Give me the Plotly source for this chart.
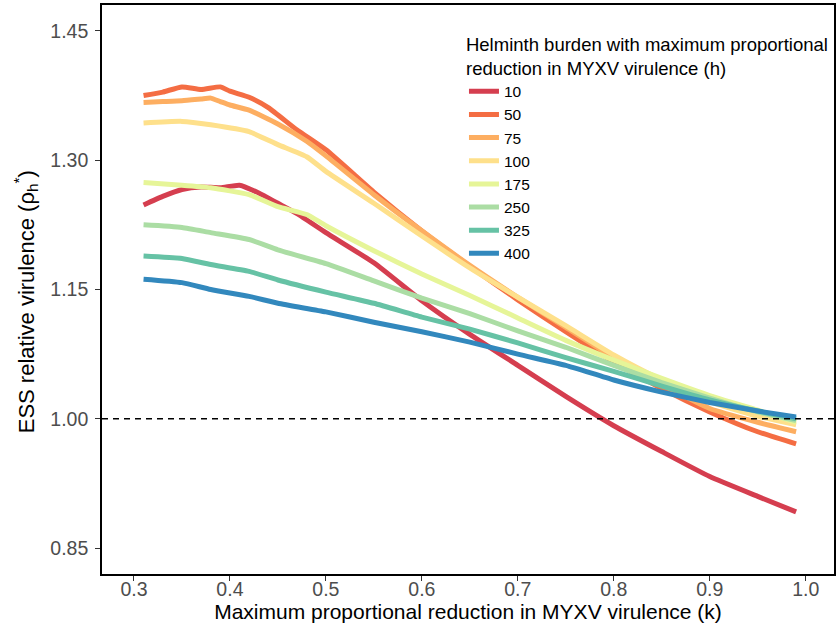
import plotly.graph_objects as go

# Helminth burden levels (legend) and colours
burden = ["10", "50", "75", "100", "175", "250", "325", "400"]
colors = ["#D53E4F", "#F46D43", "#FDAE61", "#FEE08B", "#E6F598", "#ABDDA4", "#66C2A5", "#3288BD"]

# k values and ESS relative virulence for each burden
k_10 = [0.31, 0.33, 0.35, 0.37, 0.39, 0.41, 0.43, 0.45, 0.47, 0.50, 0.55, 0.60, 0.65, 0.70, 0.75, 0.80, 0.85, 0.90, 0.95, 0.99]
v_10 = [1.248, 1.258, 1.266, 1.269, 1.268, 1.271, 1.262, 1.250, 1.238, 1.216, 1.181, 1.137, 1.098, 1.062, 1.026, 0.992, 0.962, 0.933, 0.910, 0.892]

k_50 = [0.31, 0.33, 0.35, 0.37, 0.39, 0.40, 0.42, 0.44, 0.47, 0.50, 0.55, 0.60, 0.65, 0.70, 0.75, 0.80, 0.85, 0.90, 0.95, 0.99]
v_50 = [1.375, 1.379, 1.385, 1.382, 1.385, 1.380, 1.373, 1.361, 1.335, 1.312, 1.263, 1.218, 1.177, 1.138, 1.101, 1.066, 1.035, 1.008, 0.985, 0.971]

k_75 = [0.31, 0.33, 0.35, 0.37, 0.38, 0.39, 0.40, 0.42, 0.45, 0.48, 0.50, 0.55, 0.60, 0.65, 0.70, 0.75, 0.80, 0.85, 0.90, 0.95, 0.99]
v_75 = [1.367, 1.368, 1.369, 1.371, 1.372, 1.368, 1.364, 1.358, 1.342, 1.322, 1.305, 1.260, 1.218, 1.178, 1.141, 1.106, 1.071, 1.040, 1.012, 0.996, 0.985]

k_100 = [0.31, 0.35, 0.38, 0.42, 0.45, 0.48, 0.50, 0.55, 0.60, 0.65, 0.70, 0.75, 0.80, 0.85, 0.90, 0.95, 0.99]
v_100 = [1.343, 1.345, 1.341, 1.333, 1.318, 1.304, 1.287, 1.250, 1.212, 1.175, 1.141, 1.108, 1.074, 1.045, 1.020, 1.003, 0.993]

k_175 = [0.31, 0.35, 0.38, 0.42, 0.45, 0.48, 0.50, 0.55, 0.60, 0.65, 0.70, 0.75, 0.80, 0.85, 0.90, 0.95, 0.99]
v_175 = [1.274, 1.271, 1.268, 1.260, 1.246, 1.237, 1.224, 1.195, 1.168, 1.143, 1.117, 1.091, 1.068, 1.047, 1.027, 1.010, 0.996]

k_250 = [0.31, 0.35, 0.38, 0.42, 0.45, 0.50, 0.55, 0.60, 0.65, 0.70, 0.75, 0.80, 0.85, 0.90, 0.95, 0.99]
v_250 = [1.225, 1.222, 1.216, 1.208, 1.196, 1.180, 1.160, 1.140, 1.122, 1.102, 1.083, 1.062, 1.042, 1.024, 1.008, 0.998]

k_325 = [0.31, 0.35, 0.38, 0.42, 0.45, 0.50, 0.55, 0.60, 0.65, 0.70, 0.75, 0.80, 0.85, 0.90, 0.95, 0.99]
v_325 = [1.189, 1.186, 1.179, 1.171, 1.161, 1.147, 1.134, 1.118, 1.104, 1.088, 1.071, 1.055, 1.038, 1.022, 1.009, 1.000]

k_400 = [0.31, 0.35, 0.38, 0.42, 0.45, 0.50, 0.55, 0.60, 0.65, 0.70, 0.75, 0.80, 0.85, 0.90, 0.95, 0.99]
v_400 = [1.162, 1.158, 1.150, 1.142, 1.134, 1.124, 1.112, 1.101, 1.089, 1.075, 1.062, 1.045, 1.031, 1.019, 1.009, 1.002]

series_k = [k_10, k_50, k_75, k_100, k_175, k_250, k_325, k_400]
series_v = [v_10, v_50, v_75, v_100, v_175, v_250, v_325, v_400]

x_ticks = [0.3, 0.4, 0.5, 0.6, 0.7, 0.8, 0.9, 1.0]
x_ticklabels = ["0.3", "0.4", "0.5", "0.6", "0.7", "0.8", "0.9", "1.0"]
y_ticks = [0.85, 1.00, 1.15, 1.30, 1.45]
y_ticklabels = ["0.85", "1.00", "1.15", "1.30", "1.45"]
reference_level = 1.0

font_family = "Liberation Sans, Arial, sans-serif"

fig = go.Figure()
for name, col, ks, vs in zip(burden, colors, series_k, series_v):
    fig.add_trace(go.Scatter(
        x=ks, y=vs, mode="lines", name=name,
        line=dict(color=col, width=5, shape="spline", smoothing=0.5),
    ))

fig.add_hline(y=reference_level, line=dict(color="black", width=1.5, dash="6px,5px"), layer="above")

fig.update_layout(
    width=836, height=624,
    margin=dict(l=102, r=2, t=5, b=50),
    paper_bgcolor="white", plot_bgcolor="white",
    font=dict(family=font_family, color="black"),
    showlegend=True,
    legend=dict(
        x=0.4945, y=0.962, xanchor="left", yanchor="top",
        bgcolor="rgba(0,0,0,0)",
        font=dict(size=15.5, color="black", family=font_family),
        title=dict(text="Helminth burden with maximum proportional<br>reduction in MYXV virulence (h)",
                   font=dict(size=18.5, color="black", family=font_family), side="top"),
        tracegroupgap=0,
    ),
)

fig.update_xaxes(
    range=[0.2667, 1.0295], automargin=False,
    tickmode="array", tickvals=x_ticks, ticktext=x_ticklabels,
    ticks="outside", ticklen=5, tickwidth=1, tickcolor="#333333",
    tickfont=dict(size=19.5, color="#4D4D4D"), ticklabelstandoff=-8,
    showline=True, linecolor="black", linewidth=1.6, mirror=True,
    showgrid=False, zeroline=False,
    title=dict(text="Maximum proportional reduction in MYXV virulence (k)", font=dict(size=21, color="black"), standoff=0),
)
fig.update_yaxes(
    range=[0.820, 1.480], automargin=False,
    tickmode="array", tickvals=y_ticks, ticktext=y_ticklabels,
    ticks="outside", ticklen=5, tickwidth=1, tickcolor="#333333",
    tickfont=dict(size=19.5, color="#4D4D4D"), ticklabelstandoff=3,
    showline=True, linecolor="black", linewidth=1.6, mirror=True,
    showgrid=False, zeroline=False,
    title=dict(text="ESS relative virulence (ρ<sub>h</sub><sup>*</sup>)<span style='color:rgba(0,0,0,0)'>nn</span>",
               font=dict(size=22, color="black"), standoff=10),
)

fig.write_html("out.html", config={"displayModeBar": False},
               post_script="document.body.style.margin='0px';")
